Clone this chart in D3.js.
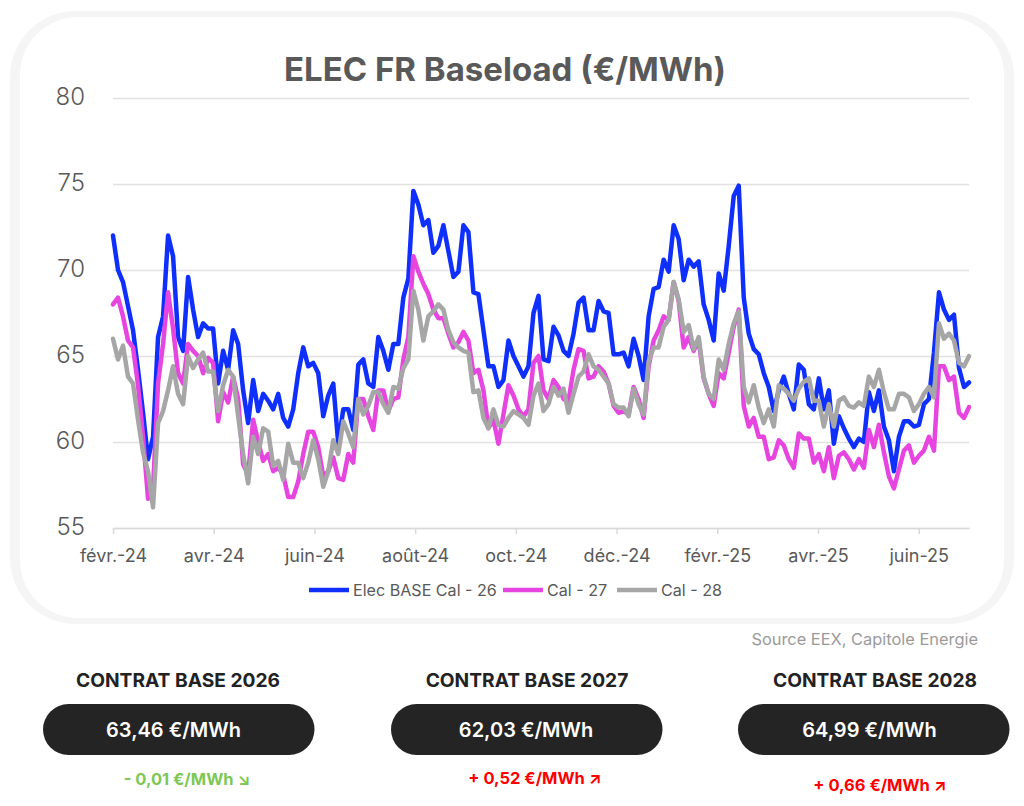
<!DOCTYPE html>
<html>
<head>
<meta charset="utf-8">
<script src="https://cdn.jsdelivr.net/npm/d3@7"></script>
<style>
  body { margin: 0; background: #fff; }
  svg { display: block; font-family: Inter, "Open Sans", sans-serif; }
</style>
</head>
<body>
<svg id="chart" width="1024" height="806"></svg>
<script>
var tickLabels = ['févr.-24', 'avr.-24', 'juin-24', 'août-24', 'oct.-24', 'déc.-24', 'févr.-25', 'avr.-25', 'juin-25'];
var yTicks = [55, 60, 65, 70, 75, 80];

var seriesNames = ['Elec BASE Cal - 26', 'Cal - 27', 'Cal - 28'];
var seriesColors = ['#0f2fff', '#e645e0', '#a6a6a6'];

var cal26 = [
  72.0, 70.0, 69.3, 67.9, 66.5, 64.2, 61.7, 59.0, 60.3, 66.1, 67.3, 72.0, 70.8, 66.1, 65.3, 69.6, 67.7, 66.1, 66.9, 66.6,
  66.6, 63.4, 65.3, 64.2, 66.5, 65.7, 63.0, 61.1, 63.6, 61.8, 62.8, 62.4, 61.9, 62.8, 61.4, 60.9, 61.9, 64.0, 65.5, 64.4,
  64.6, 64.0, 61.5, 62.7, 63.4, 59.9, 61.9, 61.9, 60.7, 64.5, 64.8, 63.4, 63.2, 66.1, 65.3, 64.2, 65.7, 65.7,
  68.4, 69.5, 74.6, 73.8, 72.6, 72.9, 71.0, 71.4, 72.6, 71.1, 69.6, 69.9, 72.6, 72.2, 68.7, 68.6, 66.5, 64.4, 64.4, 63.2,
  63.6, 65.9, 65.0, 64.4, 63.8, 64.4, 67.5, 68.5, 64.8, 64.7, 66.7, 66.2, 65.3, 65.0, 66.3, 68.1, 68.4, 66.5, 66.5, 68.2,
  67.6, 67.5, 65.1, 65.1, 65.2, 64.4, 66.0, 65.0, 63.6, 67.3, 68.9, 69.0, 70.6, 69.9, 72.6, 71.8, 69.4, 70.6,
  70.2, 70.5, 68.0, 67.1, 65.9, 69.8, 68.8, 71.4, 74.3, 74.9, 68.4, 66.3, 65.4, 65.1, 64.0, 63.2, 61.8, 63.0, 63.8, 62.8,
  61.9, 64.5, 64.2, 62.2, 61.9, 63.7, 61.9, 63.0, 59.9, 61.5, 60.8, 60.2, 59.7, 60.2, 60.0, 62.9, 61.8, 63.0, 60.9, 60.1,
  58.3, 60.3, 61.2, 61.2, 60.9, 61.0, 62.2, 62.5, 65.2, 68.7, 67.7, 67.1, 67.4, 64.3, 63.2, 63.46
];

var cal27 = [
  68.0, 68.4, 67.3, 65.9, 65.5, 63.3, 60.3, 56.7, 57.3, 63.4, 65.7, 68.7, 66.6, 64.0, 63.4, 65.7, 65.3, 65.0, 64.0, 64.9,
  64.6, 61.2, 62.9, 62.3, 63.8, 62.5, 58.7, 58.1, 61.3, 60.0, 58.9, 59.3, 58.3, 58.5, 58.1, 56.8, 56.8, 57.7, 59.3, 60.6,
  60.6, 59.7, 58.0, 58.3, 59.1, 57.9, 57.8, 59.3, 58.8, 62.5, 62.5, 61.5, 60.7, 63.0, 63.0, 61.8, 62.5, 62.6,
  64.8, 66.1, 70.8, 69.9, 69.2, 68.6, 67.7, 67.2, 67.2, 66.3, 65.5, 65.8, 66.4, 65.9, 64.0, 64.2, 63.0, 60.8, 61.3, 59.9,
  61.6, 63.3, 62.7, 61.9, 61.5, 61.9, 64.6, 65.0, 63.0, 62.5, 63.6, 63.2, 62.5, 62.4, 64.2, 65.4, 65.3, 63.7, 63.8, 64.4,
  64.1, 63.4, 62.1, 61.7, 61.8, 61.6, 63.2, 62.5, 61.4, 64.4, 65.9, 66.5, 67.3, 67.1, 69.3, 68.2, 65.5, 66.1,
  65.3, 65.9, 63.7, 62.8, 62.1, 64.0, 63.7, 65.2, 66.7, 67.7, 62.1, 60.9, 61.4, 60.3, 60.3, 59.0, 59.1, 60.1, 59.8, 59.0,
  58.5, 60.5, 60.2, 60.2, 58.8, 59.3, 58.3, 59.7, 57.9, 59.2, 59.4, 59.0, 58.4, 59.0, 58.5, 60.7, 59.7, 61.0, 59.4, 58.0,
  57.3, 58.4, 59.5, 59.8, 58.8, 59.2, 59.5, 60.3, 59.5, 64.4, 64.4, 63.6, 63.8, 61.7, 61.4, 62.03
];

var cal28 = [
  66.0, 64.8, 65.6, 63.8, 63.4, 61.3, 59.4, 58.3, 56.2, 61.1, 61.8, 63.0, 64.4, 62.8, 62.2, 65.0, 64.3, 64.8, 65.2, 64.1,
  64.1, 61.8, 63.3, 64.2, 63.8, 61.5, 59.3, 57.6, 60.3, 59.3, 60.8, 60.6, 58.6, 58.9, 57.8, 59.9, 58.8, 58.8, 57.9, 58.8,
  60.1, 59.0, 57.4, 58.3, 60.1, 59.3, 61.2, 60.5, 59.7, 62.5, 61.6, 62.1, 62.9, 62.9, 62.2, 61.7, 63.2, 63.1,
  64.3, 64.8, 68.8, 67.7, 65.9, 67.3, 67.6, 68.0, 67.7, 66.5, 65.8, 65.5, 65.3, 65.2, 62.9, 63.0, 61.4, 60.8, 61.9, 61.0,
  60.9, 61.4, 61.8, 61.6, 61.4, 61.0, 62.7, 63.4, 61.8, 62.2, 63.2, 62.7, 63.1, 61.7, 62.8, 63.8, 64.1, 65.1, 64.4, 64.2,
  63.8, 63.4, 62.2, 62.0, 62.0, 61.5, 63.1, 62.2, 61.6, 64.7, 65.5, 65.5, 66.7, 67.1, 69.3, 68.3, 66.4, 66.8,
  65.4, 66.1, 63.8, 62.8, 62.5, 64.8, 64.2, 65.7, 66.9, 67.6, 63.2, 62.3, 63.3, 62.0, 61.1, 61.9, 60.9, 63.3, 63.1, 62.8,
  62.4, 63.1, 63.5, 63.7, 62.4, 62.4, 60.9, 62.2, 60.9, 62.4, 62.6, 62.1, 62.0, 62.3, 62.1, 63.8, 63.2, 64.2, 62.9, 61.9,
  61.9, 62.8, 62.8, 62.6, 61.8, 62.2, 62.8, 63.2, 62.6, 66.9, 66.0, 66.3, 65.9, 64.6, 64.4, 64.99
];

var contractNames = ['CONTRAT BASE 2026', 'CONTRAT BASE 2027', 'CONTRAT BASE 2028'];
var contractPrices = ['63,46 €/MWh', '62,03 €/MWh', '64,99 €/MWh'];
var contractDeltas = ['- 0,01 €/MWh ↘', '+ 0,52 €/MWh ↗', '+ 0,66 €/MWh ↗'];
var deltaColors = ['#7dc855', '#ff0000', '#ff0000'];


var TICK_STEP = 20.12;   // points between two tick labels

var svg = d3.select('#chart');

// card behind the chart: the band is wider on the sides than top and bottom
svg.append('rect')
    .attr('x', 10).attr('y', 11)
    .attr('width', 1004).attr('height', 613)
    .attr('rx', 66)
    .attr('fill', '#f5f5f5');
svg.append('rect')
    .attr('x', 20).attr('y', 17)
    .attr('width', 984).attr('height', 601)
    .attr('rx', 58)
    .attr('fill', '#fff');

svg.append('text')
    .attr('x', 505).attr('y', 81)
    .attr('text-anchor', 'middle')
    .attr('font-size', 33)
    .attr('font-weight', 700)
    .attr('fill', '#595959')
    .text('ELEC FR Baseload (€/MWh)');

var x = d3.scaleLinear().domain([0, cal26.length - 1]).range([113, 969]);
var y = d3.scaleLinear().domain([55, 80]).range([528, 98]);

var yAxis = svg.append('g')
    .attr('transform', 'translate(113,0)')
    .call(d3.axisLeft(y).tickValues(yTicks).tickSize(-856).tickPadding(28));
yAxis.select('.domain').remove();
yAxis.selectAll('line').attr('stroke', '#e2e0e2').attr('stroke-width', 1.5);
yAxis.selectAll('text')
    .attr('y', -1)
    .attr('font-family', 'Inter, sans-serif')
    .attr('font-size', 24)
    .attr('font-weight', 300)
    .attr('fill', '#595959');

var xAxis = svg.append('g')
    .attr('transform', 'translate(0,528)')
    .call(d3.axisBottom(x)
      .tickValues(tickLabels.map(function(d, i) { return i * TICK_STEP; }))
      .tickFormat(function(d, i) { return tickLabels[i]; })
      .tickSize(6)
      .tickPadding(15)
      .tickSizeOuter(0));
xAxis.select('.domain').attr('stroke', '#d9d9d9').attr('stroke-width', 1.5);
xAxis.selectAll('line').attr('stroke', '#d9d9d9').attr('stroke-width', 1.5);
xAxis.selectAll('text')
    .attr('font-family', 'Inter, sans-serif')
    .attr('font-size', 18)
    .attr('fill', '#595959');

var line = d3.line()
    .x(function(d, i) { return x(i); })
    .y(function(d) { return y(d); });

svg.selectAll('.series')
    .data([cal26, cal27, cal28])
    .enter()
  .append('path')
    .attr('class', 'series')
    .attr('d', line)
    .attr('fill', 'none')
    .attr('stroke', function(d, i) { return seriesColors[i]; })
    .attr('stroke-width', 4.5)
    .attr('stroke-linejoin', 'round')
    .attr('stroke-linecap', 'round');

// legend
var legendX = [309, 503, 617];
seriesNames.forEach(function(name, i) {
  svg.append('line')
      .attr('x1', legendX[i]).attr('x2', legendX[i] + 40)
      .attr('y1', 590).attr('y2', 590)
      .attr('stroke', seriesColors[i])
      .attr('stroke-width', 4.5);
  svg.append('text')
      .attr('x', legendX[i] + 44).attr('y', 596)
      .attr('font-size', 16.1)
      .attr('fill', '#595959')
      .text(name);
});

svg.append('text')
    .attr('x', 978).attr('y', 645)
    .attr('text-anchor', 'end')
    .attr('font-size', 16.4)
    .attr('fill', '#9a9a9a')
    .text('Source EEX, Capitole Energie');

// contract boxes under the chart
var headerX = [178, 527, 875];
var pillX = [43, 391, 738];
var priceX = [173.5, 526, 869.5];
var deltaX = [187, 535, 880];
var deltaY = [785, 784, 791];

contractNames.forEach(function(name, i) {
  svg.append('text')
      .attr('x', headerX[i]).attr('y', 687)
      .attr('text-anchor', 'middle')
      .attr('font-size', 19.2)
      .attr('font-weight', 700)
      .attr('fill', '#222')
      .text(name);
  svg.append('rect')
      .attr('x', pillX[i]).attr('y', 704)
      .attr('width', 271.5).attr('height', 51)
      .attr('rx', 25.5)
      .attr('fill', '#242424');
  svg.append('text')
      .attr('x', priceX[i]).attr('y', 737)
      .attr('text-anchor', 'middle')
      .attr('font-size', 20)
      .attr('font-weight', 600)
      .attr('fill', '#fff')
      .text(contractPrices[i]);
  svg.append('text')
      .attr('x', deltaX[i]).attr('y', deltaY[i])
      .attr('text-anchor', 'middle')
      .attr('font-size', 16.5)
      .attr('font-weight', 700)
      .attr('fill', deltaColors[i])
      .text(contractDeltas[i]);
});
</script>
</body>
</html>
